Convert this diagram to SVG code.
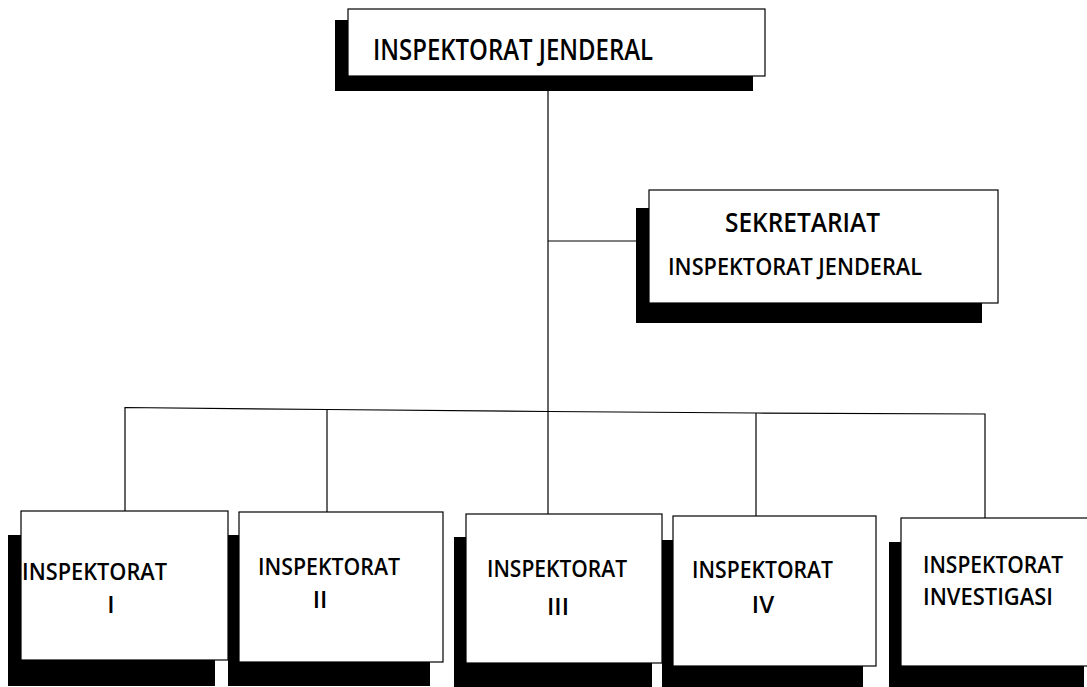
<svg xmlns="http://www.w3.org/2000/svg" width="1087" height="687" viewBox="0 0 1087 687">
<style>
.sh{fill:#000}
.bx{fill:#fff;stroke:#000;stroke-width:1.2}
.t{font-family:"Open Sans","Liberation Sans",sans-serif;font-weight:600;fill:#000}
.c{fill:none;stroke:#000;stroke-width:1.2}
</style>
<rect width="1087" height="687" fill="#fff"/>
<g id="connectors">
<line class="c" x1="548" y1="88" x2="548" y2="514"/>
<line class="c" x1="548" y1="241" x2="637" y2="241"/>
<polyline class="c" points="125,511 125,407.5 327,409.5 548,411.5 756,413 985,414 985,518"/>
<line class="c" x1="327" y1="409.5" x2="327" y2="512"/>
<line class="c" x1="756" y1="413" x2="756" y2="516"/>
</g>
<g id="n-irjen">
<rect class="sh" x="335" y="20" width="418" height="71"/>
<rect class="bx" x="348" y="9" width="417" height="67"/>
<text class="t" x="373" y="60" font-size="28" textLength="280" lengthAdjust="spacingAndGlyphs">INSPEKTORAT JENDERAL</text>
</g>
<g id="n-sekretariat">
<rect class="sh" x="636" y="208" width="346" height="115"/>
<rect class="bx" x="649" y="190" width="349" height="113"/>
<text class="t" x="725" y="232" font-size="27" textLength="155" lengthAdjust="spacingAndGlyphs">SEKRETARIAT</text>
<text class="t" x="668" y="275" font-size="24" textLength="254" lengthAdjust="spacingAndGlyphs">INSPEKTORAT JENDERAL</text>
</g>
<g id="n-insp1">
<rect class="sh" x="8" y="535" width="207" height="151"/>
<rect class="bx" x="21" y="511" width="207" height="149"/>
<text class="t" x="22" y="580" font-size="24" textLength="145" lengthAdjust="spacingAndGlyphs">INSPEKTORAT</text>
<text class="t" x="111" y="613" font-size="24" text-anchor="middle">I</text>
</g>
<g id="n-insp2">
<rect class="sh" x="228" y="535" width="202" height="151"/>
<rect class="bx" x="239" y="512" width="204" height="150"/>
<text class="t" x="258" y="575" font-size="24" textLength="142" lengthAdjust="spacingAndGlyphs">INSPEKTORAT</text>
<text class="t" x="320" y="608" font-size="24" text-anchor="middle">II</text>
</g>
<g id="n-insp3">
<rect class="sh" x="454" y="537" width="198" height="150"/>
<rect class="bx" x="466" y="514" width="196" height="149"/>
<text class="t" x="487" y="577" font-size="24" textLength="140" lengthAdjust="spacingAndGlyphs">INSPEKTORAT</text>
<text class="t" x="558" y="615" font-size="24" text-anchor="middle">III</text>
</g>
<g id="n-insp4">
<rect class="sh" x="662" y="540" width="201" height="147"/>
<rect class="bx" x="673" y="516" width="203" height="150"/>
<text class="t" x="692" y="578" font-size="24" textLength="141" lengthAdjust="spacingAndGlyphs">INSPEKTORAT</text>
<text class="t" x="763" y="613" font-size="24" text-anchor="middle">IV</text>
</g>
<g id="n-investigasi">
<rect class="sh" x="889" y="542" width="195" height="145"/>
<rect class="bx" x="901" y="518" width="200" height="148"/>
<text class="t" x="923" y="573" font-size="24" textLength="140" lengthAdjust="spacingAndGlyphs">INSPEKTORAT</text>
<text class="t" x="923" y="605" font-size="24" textLength="130" lengthAdjust="spacingAndGlyphs">INVESTIGASI</text>
</g>
</svg>
